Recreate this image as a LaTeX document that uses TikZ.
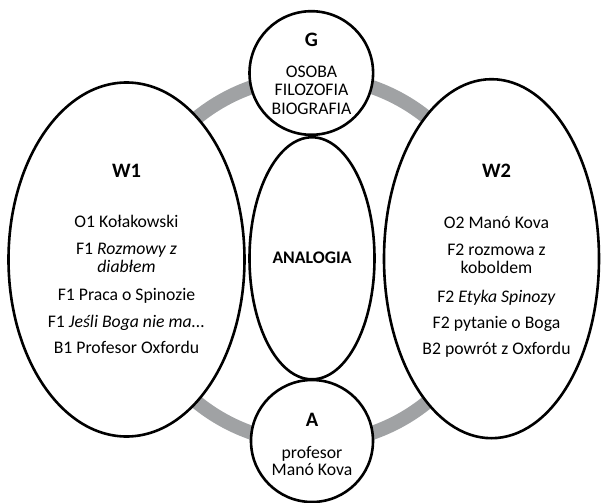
\documentclass[tikz,border=0pt]{standalone}
\usepackage{fontspec}
\setmainfont{Carlito}
\usetikzlibrary{shapes.geometric}
\definecolor{ringgray}{RGB}{160,162,164}
\begin{document}
\begin{tikzpicture}[x=1pt,y=-1pt,
  blob/.style={ellipse,draw=black,line width=2.6pt,fill=white,inner sep=0pt},
  ttl/.style={font=\fontsize{20.5}{22}\selectfont\bfseries,anchor=base,inner sep=0pt},
  mid/.style={font=\fontsize{17.7}{19}\selectfont\bfseries,anchor=base,inner sep=0pt},
  txt/.style={font=\fontsize{17.7}{19}\selectfont,anchor=base,inner sep=0pt}]
\useasboundingbox (0,0) rectangle (602,503);
\coordinate (ringc) at (312,260);
\draw[ringgray,line width=14pt] (ringc) circle[radius=183];
% shapes
\node[blob,minimum width=236,minimum height=354] (w1) at (126.5,259.5) {};
\node[blob,minimum width=215,minimum height=359] (w2) at (491.5,258.7) {};
\node[blob,minimum width=125,minimum height=242] (an) at (312,258.3) {};
\node[blob,minimum width=123.6,minimum height=123.6] (g) at (311.3,73) {};
\node[blob,minimum width=122,minimum height=122] (a) at (312,441) {};
% W1
\node[ttl] (w1t) at (126.5,177) {W1};
\node[txt] (w1a) at (126.5,227.3) {O1 Kołakowski};
\node[txt] (w1b) at (126.5,254) {F1 \textit{Rozmowy z}};
\node[txt] (w1c) at (126.5,272.6) {\textit{diabłem}};
\node[txt] (w1d) at (126.5,300) {F1 Praca o Spinozie};
\node[txt] (w1e) at (126.5,327.5) {F1 \textit{Jeśli Boga nie ma...}};
\node[txt] (w1f) at (126.5,353.8) {B1 Profesor Oxfordu};
% W2
\node[ttl] (w2t) at (496.5,177.3) {W2};
\node[txt] (w2a) at (496.5,228.9) {O2 Manó Kova};
\node[txt] (w2b) at (496.5,255.6) {F2 rozmowa z};
\node[txt] (w2c) at (496.5,273.9) {koboldem};
\node[txt] (w2d) at (496.5,302.3) {F2 \textit{Etyka Spinozy}};
\node[txt] (w2e) at (496.5,328.3) {F2 pytanie o Boga};
\node[txt] (w2f) at (496.5,354.9) {B2 powrót z Oxfordu};
% G
\node[ttl] (gt) at (311.5,46.6) {G};
\node[txt] (ga) at (311.5,77.4) {OSOBA};
\node[txt] (gb) at (311.5,95.6) {FILOZOFIA};
\node[txt] (gc) at (311.5,114.8) {BIOGRAFIA};
% center
\node[mid] (ant) at (312,263.8) {ANALOGIA};
% A
\node[ttl] (at) at (312,426.5) {A};
\node[txt] (aa) at (312,458.3) {profesor};
\node[txt] (ab) at (312,475.5) {Manó Kova};
\end{tikzpicture}
\end{document}
